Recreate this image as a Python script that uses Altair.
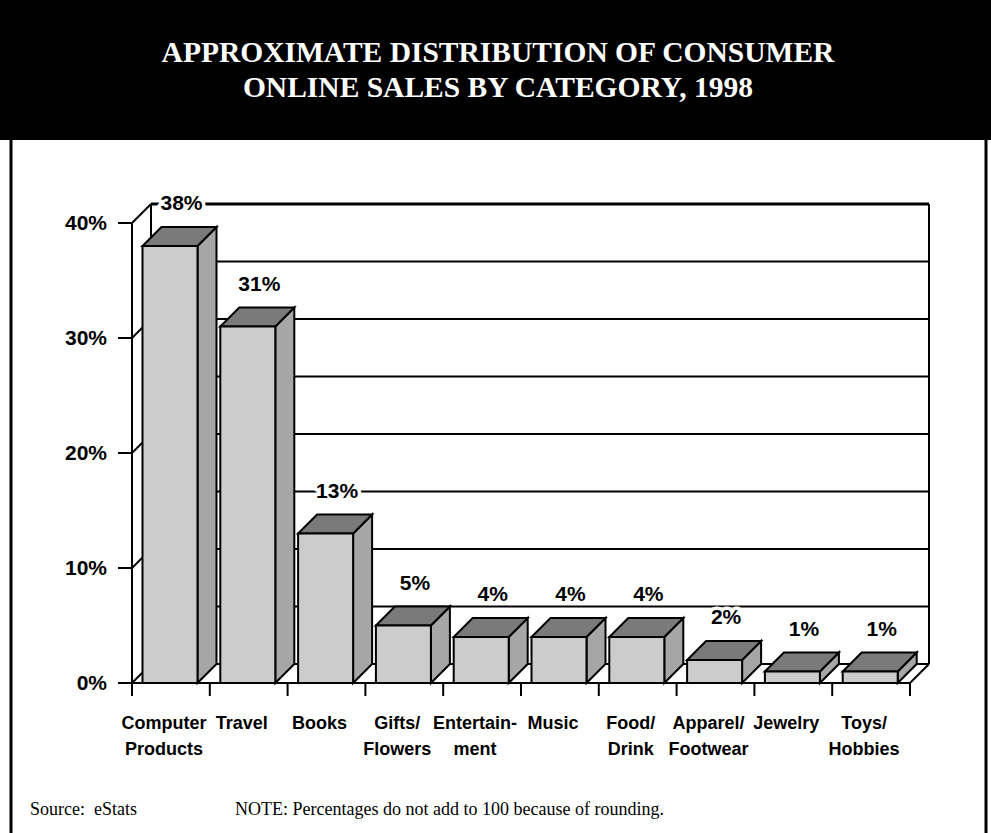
import altair as alt
import pandas as pd

# ---------------- data ----------------
categories = ["Computer\nProducts", "Travel", "Books", "Gifts/\nFlowers", "Entertain-\nment",
              "Music", "Food/\nDrink", "Apparel/\nFootwear", "Jewelry", "Toys/\nHobbies"]
values = [38, 31, 13, 5, 4, 4, 4, 2, 1, 1]
value_labels = ["38%", "31%", "13%", "5%", "4%", "4%", "4%", "2%", "1%", "1%"]
y_ticks = [0, 10, 20, 30, 40]
y_tick_labels = ["0%", "10%", "20%", "30%", "40%"]
grid_values = [0, 5, 10, 15, 20, 25, 30, 35, 40]
title_text = "APPROXIMATE DISTRIBUTION OF CONSUMER\nONLINE SALES BY CATEGORY, 1998"
source_text = "Source:\u00a0\u00a0eStats"
note_text = "NOTE: Percentages do not add to 100 because of rounding."

# ---------------- geometry / style constants ----------------
W, H = 991, 833
N = len(categories)
FRONT_LEFT_PX, BACK_RIGHT_PX = 132, 929
ZERO_PX, TOP_PX = 683, 204
DEPTH_PX = 19
BAND_PX = (BACK_RIGHT_PX - DEPTH_PX - FRONT_LEFT_PX) / N
YMAX = 40
PX_PER_PCT = (ZERO_PX - DEPTH_PX - TOP_PX) / YMAX
DX = DEPTH_PX / BAND_PX          # depth in x data units
DY = DEPTH_PX / PX_PER_PCT       # depth in y data units
BAR_OFF = 10.5 / BAND_PX
BAR_W = 55 / BAND_PX
TICK_X = 14 / BAND_PX
TICK_Y = 13 / PX_PER_PCT

xs = alt.Scale(domain=[0, N + DX], range=[FRONT_LEFT_PX, BACK_RIGHT_PX])
ys = alt.Scale(domain=[0, YMAX + DY], range=[ZERO_PX, TOP_PX])

FRONT = "#cccccc"
SIDE = "#a6a6a6"
TOPC = "#7a7a7a"
BOLD = "Liberation Sans, Arial, sans-serif"
SERIF = "Liberation Serif, Times New Roman, serif"

def X(f):
    return alt.X(f, type="quantitative", scale=xs, axis=None)

def Y(f):
    return alt.Y(f, type="quantitative", scale=ys, axis=None, stack=None)

# ---------------- tables built from the arrays ----------------
bars = pd.DataFrame({"cat": categories, "v": values, "lab": value_labels})
bars["i"] = range(N)
bars["xL"] = bars["i"] + BAR_OFF
bars["xR"] = bars["xL"] + BAR_W
bars["xc"] = bars["xL"] + BAR_W / 2
bars["mid"] = bars["i"] + 0.5
bars["zero"] = 0.0
bars["vb"] = bars["v"] + DY

side_rows, top_rows = [], []
for _, r in bars.iterrows():
    side_rows.append({"cat": r["cat"], "x": r["xR"], "y0": 0.0, "y1": r["v"]})
    side_rows.append({"cat": r["cat"], "x": r["xR"] + DX, "y0": DY, "y1": r["v"] + DY})
    top_rows.append({"cat": r["cat"], "y": r["v"], "x0": r["xL"], "x1": r["xR"]})
    top_rows.append({"cat": r["cat"], "y": r["v"] + DY, "x0": r["xL"] + DX, "x1": r["xR"] + DX})
side_df = pd.DataFrame(side_rows)
top_df = pd.DataFrame(top_rows)

grid = pd.DataFrame({"g": grid_values})
grid["yb"] = grid["g"] + DY
grid["x0"] = DX
grid["x1"] = N + DX
grid["w"] = [3 if g == YMAX else 2 for g in grid_values]

ticks = pd.DataFrame({"t": y_ticks, "lab": y_tick_labels})
ticks["x0"] = -TICK_X
ticks["x1"] = 0.0
ticks["xb"] = DX
ticks["tb"] = ticks["t"] + DY
ticks["zero"] = 0.0

bticks = pd.DataFrame({"b": list(range(N + 1))})
bticks["y0"] = 0.0
bticks["y1"] = -TICK_Y

frame = pd.DataFrame({
    "x0": [DX, N + DX, 0.0, -TICK_X, N],
    "x1": [DX, N + DX, 0.0, N, N + DX],
    "y0": [DY, DY, 0.0, 0.0, 0.0],
    "y1": [YMAX + DY, YMAX + DY, YMAX, 0.0, DY],
})

one = pd.DataFrame({"k": [0]})

# ---------------- layers ----------------
header = alt.Chart(one).mark_rect(color="black").encode(
    x=alt.value(0), x2=alt.value(W), y=alt.value(0), y2=alt.value(140))
title = alt.Chart(one).mark_text(
    text=title_text, lineBreak="\n", lineHeight=35, font=SERIF, fontSize=29.5,
    fontWeight="bold", color="white", align="center", baseline="alphabetic"
).encode(x=alt.value(498), y=alt.value(62))
border_l = alt.Chart(one).mark_rule(color="black", strokeWidth=3).encode(
    x=alt.value(11), y=alt.value(138), y2=alt.value(H))
border_r = alt.Chart(one).mark_rule(color="black", strokeWidth=3).encode(
    x=alt.value(986), y=alt.value(138), y2=alt.value(H))
src = alt.Chart(one).mark_text(
    text=source_text, font=SERIF, fontSize=18, color="black", align="left",
    baseline="alphabetic").encode(x=alt.value(30), y=alt.value(815))
note = alt.Chart(one).mark_text(
    text=note_text, font=SERIF, fontSize=18, color="black", align="left",
    baseline="alphabetic").encode(x=alt.value(235), y=alt.value(815))

gridlines = alt.Chart(grid).mark_rule(color="black").encode(
    x=X("x0"), x2="x1", y=Y("yb"), strokeWidth=alt.StrokeWidth("w:Q", scale=None, legend=None))
diag = alt.Chart(ticks).mark_rule(color="black", strokeWidth=2).encode(
    x=X("zero"), y=Y("t"), x2="xb", y2="tb")
frame_lines = alt.Chart(frame).mark_rule(color="black", strokeWidth=2).encode(
    x=X("x0"), x2="x1", y=Y("y0"), y2="y1")
ytick_marks = alt.Chart(ticks).mark_rule(color="black", strokeWidth=2).encode(
    x=X("x0"), x2="x1", y=Y("t"))
xtick_marks = alt.Chart(bticks).mark_rule(color="black", strokeWidth=2).encode(
    x=X("b"), y=Y("y0"), y2="y1")

side = alt.Chart(side_df).mark_area(
    orient="vertical", color=SIDE, stroke="black", strokeWidth=2, strokeJoin="miter",
    opacity=1, fillOpacity=1
).encode(x=X("x"), y=Y("y0"), y2="y1", detail="cat:N")
top = alt.Chart(top_df).mark_area(
    orient="horizontal", color=TOPC, stroke="black", strokeWidth=2, strokeJoin="miter",
    opacity=1, fillOpacity=1
).encode(y=Y("y"), x=X("x0"), x2="x1", detail="cat:N")
front = alt.Chart(bars).mark_rect(
    color=FRONT, stroke="black", strokeWidth=2
).encode(x=X("xL"), x2="xR", y=Y("zero"), y2="v")

halo = alt.Chart(bars).mark_text(
    font=BOLD, fontSize=21, fontWeight="bold", color="white", stroke="white",
    strokeWidth=7, strokeJoin="round", align="center", baseline="middle", dx=11.5, dy=-23
).encode(x=X("xc"), y=Y("vb"), text="lab:N")
vlabels = alt.Chart(bars).mark_text(
    font=BOLD, fontSize=21, fontWeight="bold", color="black",
    align="center", baseline="middle", dx=11.5, dy=-23
).encode(x=X("xc"), y=Y("vb"), text="lab:N")

clabels = alt.Chart(bars).mark_text(
    font=BOLD, fontSize=18, fontWeight="bold", color="black", lineBreak="\n",
    lineHeight=26, align="center", baseline="alphabetic", dx=-7, dy=46
).encode(x=X("mid"), y=Y("zero"), text="cat:N")
ylabels = alt.Chart(ticks).mark_text(
    font=BOLD, fontSize=21, fontWeight="bold", color="black",
    align="right", baseline="middle", dx=-25, dy=1
).encode(x=X("zero"), y=Y("t"), text="lab:N")

chart = alt.layer(
    header, title, border_l, border_r,
    gridlines, diag, frame_lines, ytick_marks, xtick_marks,
    side, top, front,
    halo, vlabels, clabels, ylabels, src, note
).properties(
    width=W, height=H, autosize=alt.AutoSizeParams(type="none"), padding=0,
    background="white"
).configure_view(stroke=None)

chart.save("out.html", embed_options={"renderer": "svg", "actions": False})
